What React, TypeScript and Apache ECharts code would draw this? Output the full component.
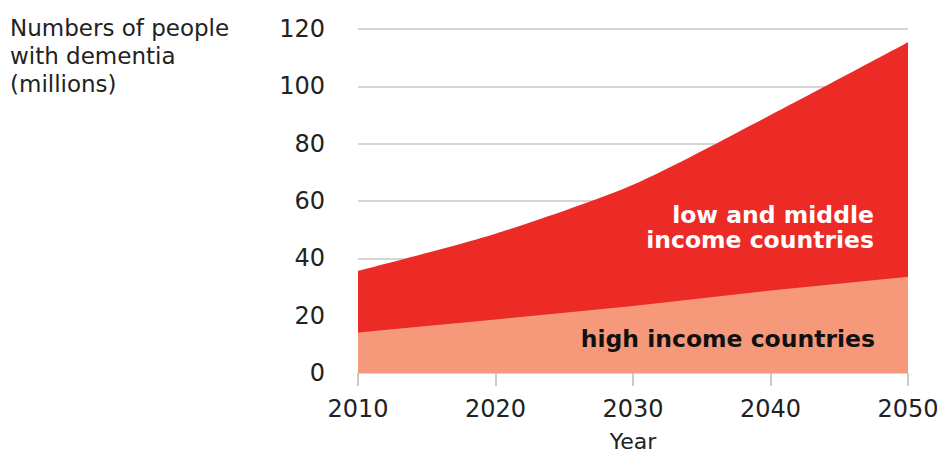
import React, { useEffect, useRef } from "react";
import * as echarts from "echarts";

const years = [2010, 2020, 2030, 2040, 2050];
const totalPeople = [35.6, 48.6, 65.7, 90.0, 115.4];
const highIncome = [14.1, 18.7, 23.4, 28.8, 33.6];
const yTicks = { min: 0, max: 120, interval: 20 };
const xTicks = { min: 2010, max: 2050, interval: 10 };

const FONT = "'DejaVu Sans', 'Liberation Sans', Arial, sans-serif";

export default function App() {
  const ref = useRef<HTMLDivElement>(null);
  useEffect(() => {
    document.body.style.margin = "0";
    if (!ref.current) return;
    const chart = echarts.init(ref.current, null, { renderer: "svg" });
    chart.setOption({
      animation: false,
      backgroundColor: "#ffffff",
      textStyle: { fontFamily: FONT },
      grid: {
        left: 358,
        right: 36,
        top: 29,
        bottom: 79,
        containLabel: false,
        outerBoundsMode: "none",
      },
      xAxis: {
        type: "value",
        min: xTicks.min,
        max: xTicks.max,
        interval: xTicks.interval,
        name: "Year",
        nameLocation: "middle",
        nameGap: 68,
        nameTextStyle: { fontSize: 22, color: "#222", fontFamily: FONT, verticalAlign: "middle" },
        axisLine: { show: false },
        axisTick: { show: true, length: 13, lineStyle: { color: "#b8b8b8", width: 1.5 } },
        splitLine: { show: false },
        axisLabel: {
          margin: 24,
          fontSize: 24,
          color: "#222",
          fontFamily: FONT,
          formatter: (v: number) => String(v),
        },
      },
      yAxis: {
        type: "value",
        min: yTicks.min,
        max: yTicks.max,
        interval: yTicks.interval,
        axisLine: { show: false },
        axisTick: { show: false },
        splitLine: { show: true, lineStyle: { color: "#c8c8c8", width: 1.5 } },
        axisLabel: { margin: 33, fontSize: 24, color: "#222", fontFamily: FONT },
      },
      series: [
        {
          name: "low and middle income countries",
          type: "line",
          data: years.map((y, i) => [y, totalPeople[i]]),
          smooth: 0.25,
          symbol: "none",
          lineStyle: { width: 0 },
          areaStyle: { color: "#ec2a26", opacity: 1 },
          z: 2,
        },
        {
          name: "high income countries",
          type: "line",
          data: years.map((y, i) => [y, highIncome[i]]),
          symbol: "none",
          lineStyle: { width: 0 },
          areaStyle: { color: "#f6987a", opacity: 1 },
          z: 3,
        },
      ],
      graphic: [
        {
          type: "text",
          x: 10,
          y: 56,
          style: {
            text: "Numbers of people\nwith dementia\n(millions)",
            font: `23px ${FONT}`,
            lineHeight: 28,
            fill: "#222",
            align: "left",
            verticalAlign: "middle",
          },
        },
        {
          type: "text",
          x: 874,
          y: 227.5,
          style: {
            text: "low and middle\nincome countries",
            font: `bold 23.5px ${FONT}`,
            lineHeight: 25.5,
            fill: "#ffffff",
            align: "right",
            verticalAlign: "middle",
          },
          z: 10,
        },
        {
          type: "text",
          x: 875,
          y: 339,
          style: {
            text: "high income countries",
            font: `bold 23.5px ${FONT}`,
            fill: "#111111",
            align: "right",
            verticalAlign: "middle",
          },
          z: 10,
        },
      ],
    });
    return () => chart.dispose();
  }, []);
  return <div ref={ref} style={{ width: 944, height: 452 }} />;
}
